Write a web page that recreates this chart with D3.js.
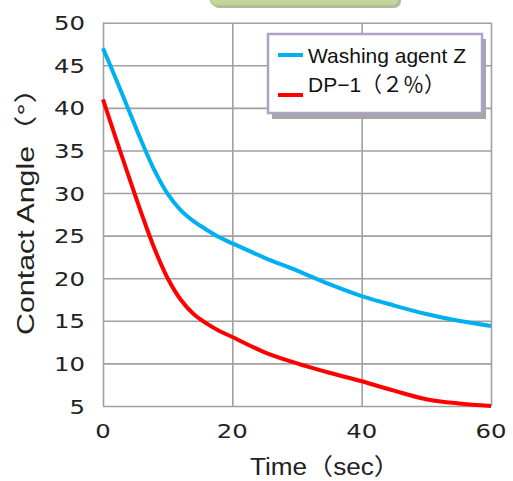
<!DOCTYPE html>
<html>
<head>
<meta charset="utf-8">
<script src="https://cdn.jsdelivr.net/npm/d3@7"></script>
<style>
  html, body { margin: 0; padding: 0; background: #fff; }
  svg { display: block; }
</style>
</head>
<body>
<svg id="chart" width="513" height="481"></svg>
<script>
// Contact angle over time for two washing solutions
const timeSec = [0, 2, 4, 6, 8, 10, 12, 14, 16, 18, 20, 25, 30, 35, 40, 45, 50, 55, 60];
const washingAgentZ = [47, 43.4, 39.7, 36, 32.6, 29.9, 28.0, 26.7, 25.7, 24.8, 24.1, 22.4, 20.9, 19.3, 17.9, 16.8, 15.8, 15, 14.4];
const dp1 = [41, 36.4, 31.9, 27.5, 23.4, 20.0, 17.5, 15.8, 14.7, 13.8, 13.1, 11.3, 10, 8.9, 7.9, 6.8, 5.8, 5.3, 5.0];
const seriesNames = ["Washing agent Z", "DP\u22121\uFF08\uFF12\uFF05\uFF09"];
const seriesColors = ["#00b0f0", "#ff0000"];
const xTicks = [0, 20, 40, 60];
const yTicks = [5, 10, 15, 20, 25, 30, 35, 40, 45, 50];
const xTitle = "Time\uFF08sec\uFF09";
const yTitle = "Contact Angle\uFF08\u00B0\uFF09";

const svg = d3.select("#chart");
const x = d3.scaleLinear().domain([0, 60]).range([103, 491]);
const y = d3.scaleLinear().domain([5, 50]).range([406, 22.7]);

const gridColor = "#a0a0a0";
const tickFont = "'DejaVu Sans', 'Noto Sans CJK JP', sans-serif";
const textFont = "'Liberation Sans', 'Noto Sans CJK JP', sans-serif";

// Title box peeking in at the top edge
const defs = svg.append("defs");
const grad = defs.append("linearGradient").attr("id", "titleFill")
  .attr("x1", 0).attr("y1", 0).attr("x2", 0).attr("y2", 1);
grad.append("stop").attr("offset", "0%").attr("stop-color", "#d9e6c0");
grad.append("stop").attr("offset", "100%").attr("stop-color", "#bcd394");
svg.append("rect").attr("x", 212).attr("y", -20).attr("width", 189).attr("height", 28)
  .attr("rx", 7).attr("fill", "#b5b5a8");
svg.append("rect").attr("x", 210).attr("y", -20).attr("width", 189).attr("height", 26)
  .attr("rx", 7).attr("fill", "url(#titleFill)").attr("stroke", "#a8c07e").attr("stroke-width", 1);

// Gridlines via axes
svg.append("g")
  .attr("transform", `translate(${x(0)},0)`)
  .call(d3.axisLeft(y).tickValues(yTicks).tickSize(-(x(60) - x(0))).tickFormat(""))
  .call(g => g.select(".domain").remove())
  .call(g => g.selectAll("line").attr("stroke", gridColor).attr("stroke-width", 1.6));

svg.append("g")
  .attr("transform", `translate(0,${y(5)})`)
  .call(d3.axisBottom(x).tickValues(xTicks).tickSize(-(y(5) - y(50))).tickFormat(""))
  .call(g => g.select(".domain").remove())
  .call(g => g.selectAll("line").attr("stroke", gridColor).attr("stroke-width", 1.6));

// Tick labels
svg.append("g").selectAll("text").data(yTicks).join("text")
  .attr("x", 85).attr("y", d => y(d) + 7.5)
  .attr("text-anchor", "end")
  .attr("font-family", tickFont).attr("font-size", 20).attr("fill", "#222")
  .attr("textLength", d => String(d).length * 15.5)
  .attr("lengthAdjust", "spacingAndGlyphs")
  .text(d => d);

svg.append("g").selectAll("text").data(xTicks).join("text")
  .attr("x", d => x(d)).attr("y", 438)
  .attr("text-anchor", "middle")
  .attr("font-family", tickFont).attr("font-size", 20).attr("fill", "#222")
  .attr("textLength", d => String(d).length * 15.5)
  .attr("lengthAdjust", "spacingAndGlyphs")
  .text(d => d);

// Axis titles
svg.append("text")
  .attr("x", 250).attr("y", 475)
  .attr("font-family", textFont)
  .attr("font-size", 23).attr("fill", "#222")
  .attr("textLength", 150).attr("lengthAdjust", "spacingAndGlyphs")
  .text(xTitle);

svg.append("text")
  .attr("transform", "translate(34,335) rotate(-90)")
  .attr("font-family", textFont)
  .attr("font-size", 23).attr("fill", "#222")
  .attr("textLength", 262).attr("lengthAdjust", "spacingAndGlyphs")
  .text(yTitle);

// Series lines
const line = d3.line().x(d => x(d[0])).y(d => y(d[1])).curve(d3.curveCatmullRom.alpha(0.5));
[washingAgentZ, dp1].forEach((vals, i) => {
  svg.append("path")
    .datum(timeSec.map((t, k) => [t, vals[k]]))
    .attr("fill", "none")
    .attr("stroke", seriesColors[i])
    .attr("stroke-width", 4)
    .attr("stroke-linejoin", "round")
    .attr("d", line);
});

// Legend
const lg = svg.append("g");
lg.append("rect").attr("x", 272).attr("y", 39).attr("width", 214).attr("height", 80).attr("fill", "#a6a6a6");
lg.append("rect").attr("x", 268).attr("y", 34).attr("width", 214).attr("height", 79)
  .attr("fill", "#fff").attr("stroke", "#b1a0c7").attr("stroke-width", 2.5);
seriesNames.forEach((name, i) => {
  const cy = 55 + i * 40;
  lg.append("line").attr("x1", 278).attr("x2", 303).attr("y1", cy).attr("y2", cy)
    .attr("stroke", seriesColors[i]).attr("stroke-width", 4);
  lg.append("text").attr("x", 308).attr("y", 63 + i * 29)
    .attr("font-family", textFont)
    .attr("font-size", 21).attr("fill", "#111")
    .text(name);
});
</script>
</body>
</html>
